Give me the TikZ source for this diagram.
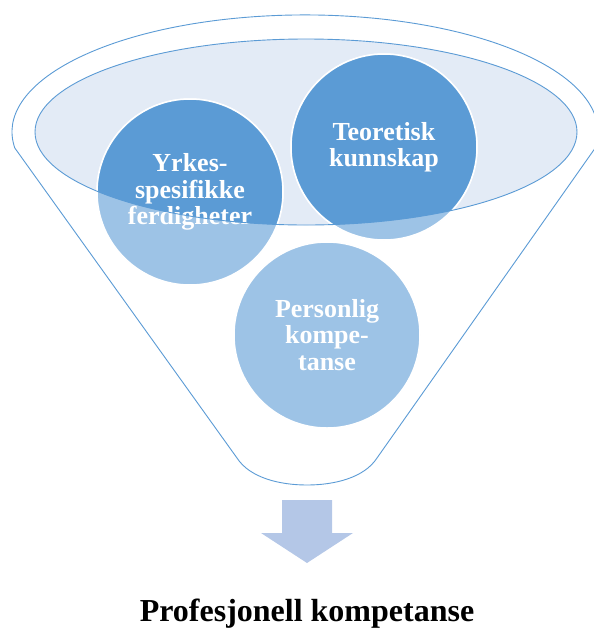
\documentclass[tikz,border=0pt]{standalone}
\usepackage{fontspec}
\setmainfont{Liberation Serif}
\definecolor{darkblue}{HTML}{5B9BD5}
\definecolor{lightblue}{HTML}{9DC3E6}
\definecolor{ellfill}{HTML}{E3EBF6}
\definecolor{arrowblue}{HTML}{B4C7E7}
\tikzset{
  funnelline/.style={draw=darkblue, line width=0.9pt},
  bubble/.style={circle, minimum size=186pt, inner sep=0pt, fill=lightblue, draw=white, line width=1.5pt},
  bubbletext/.style={text=white, align=center, font=\fontsize{26}{26.5}\selectfont\bfseries},
  titletext/.style={text=black, font=\fontsize{32}{36}\selectfont\bfseries}
}
\begin{document}
\begin{tikzpicture}[x=1pt,y=-1pt]
\useasboundingbox (0,0) rectangle (594,630);
% funnel body
\path[funnelline, fill=white]
  (14.8,148) arc[start angle=172.1, end angle=367.9, x radius=293, y radius=117]
  -- (377,458) .. controls (364,478) and (334,485) .. (307,485)
  .. controls (280,485) and (250,478) .. (237,458) -- cycle;
% inner ellipse fill
\fill[ellfill] (306,132) ellipse[x radius=271, y radius=93];
% bubbles (light parts)
\node[bubble] (y) at (190,192) {};
\node[bubble] (t) at (384,147) {};
\node[bubble] (p) at (327,335) {};
% darker parts inside the ellipse
\begin{scope}
  \clip (306,132) ellipse[x radius=271, y radius=93];
  \fill[darkblue] (y.center) circle[radius=93pt];
  \fill[darkblue] (t.center) circle[radius=93pt];
  \draw[white, line width=1.5pt] (y.center) circle[radius=93pt];
  \draw[white, line width=1.5pt] (t.center) circle[radius=93pt];
\end{scope}
% texts
\node[bubbletext] (yt) at (y.center) {Yrkes-\\spesifikke\\ferdigheter};
\node[bubbletext] (tt) at (t.center) {Teoretisk\\kunnskap};
\node[bubbletext] (pt) at (p.center) {Personlig\\kompe-\\tanse};
% inner ellipse border
\draw[funnelline] (306,132) ellipse[x radius=271, y radius=93];
% arrow
\fill[arrowblue] (282,500) -- (332,500) -- (332,533) -- (353,533) -- (307,563)
  -- (261,533) -- (282,533) -- cycle;
% title
\node[titletext, anchor=base] (title) at (307,621) {Profesjonell kompetanse};
\end{tikzpicture}
\end{document}
